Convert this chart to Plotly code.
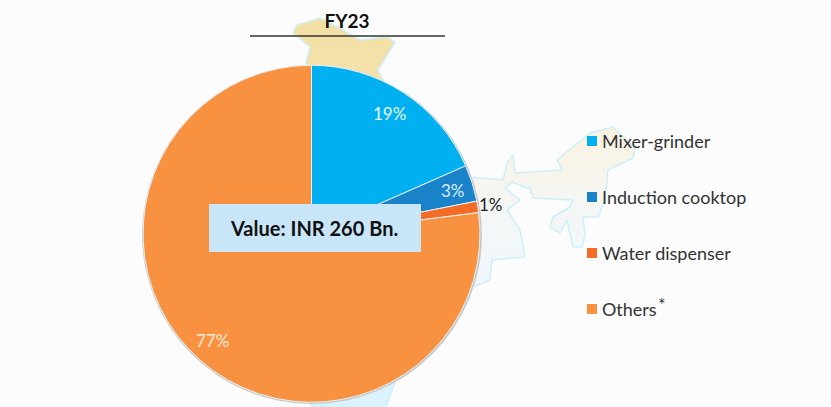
import base64
import plotly.graph_objects as go

W, H = 831, 407

categories = ["Mixer-grinder", "Induction cooktop", "Water dispenser", "Others"]
legend_labels = ["Mixer-grinder", "Induction cooktop", "Water dispenser", "Others"]
drawn_shares = [18.4, 3.5, 1.1, 77.0]
share_labels = ["19%", "3%", "1%", "77%"]
colors = ["#00B0F0", "#1A82C8", "#F46B23", "#F99240"]
label_colors = ["#EAF8FE", "#DCEEFA", "#222222", "#FDEBDC"]
label_pos = [(389, 113), (453, 190), (491, 204), (213, 340)]
title_text = "FY23"
box_text = "Value: INR 260 Bn."

# Decorative map silhouette behind the pie (pixel outline)
map_outline = [
    (293, 33), (297, 25), (320, 18), (343, 30), (360, 40), (387, 37), (395, 42), (378, 70), (383, 80),
    (470, 177), (503, 180), (507, 163), (513, 155), (515, 173), (562, 170), (557, 160), (590, 133),
    (613, 127), (635, 148), (633, 158), (608, 170), (605, 200), (598, 217), (583, 217), (585, 235),
    (582, 247), (573, 247), (567, 220), (560, 233), (550, 227), (553, 217), (570, 207), (573, 200),
    (533, 198), (530, 187), (527, 188), (512, 182), (505, 188), (520, 200), (507, 210), (520, 230),
    (525, 257), (492, 260), (490, 280), (470, 288), (400, 370), (392, 390), (386, 407), (312, 407),
    (250, 300), (250, 150), (310, 75), (306, 63), (310, 47),
]
pts = " ".join(f"{x},{y}" for x, y in map_outline)
svg = f'''<svg xmlns="http://www.w3.org/2000/svg" width="{W}" height="{H}" viewBox="0 0 {W} {H}">
<defs><linearGradient id="g" gradientUnits="userSpaceOnUse" x1="0" y1="20" x2="0" y2="407">
<stop offset="0" stop-color="#F3DFA2"/><stop offset="0.17" stop-color="#F4E2AE"/>
<stop offset="0.3" stop-color="#FAF3E3"/><stop offset="0.5" stop-color="#F4F7F6"/>
<stop offset="0.7" stop-color="#EFF7FC"/><stop offset="1" stop-color="#D8F2FC"/></linearGradient></defs>
<polygon points="{pts}" fill="url(#g)" stroke="#CDEFFA" stroke-width="1.5" stroke-linejoin="round"/></svg>'''
map_uri = "data:image/svg+xml;base64," + base64.b64encode(svg.encode()).decode()

FONT = "Lato, Carlito, sans-serif"
def px(x): return x / W
def py(y): return 1 - y / H

fig = go.Figure(go.Pie(
    labels=categories, values=drawn_shares, sort=False, direction="clockwise", rotation=0,
    marker=dict(colors=colors, line=dict(color="#E6F2F8", width=1)),
    textinfo="none", hoverinfo="label+percent", showlegend=False,
    domain=dict(x=[px(143), px(480)], y=[py(402.5), py(65)]),
))

shapes = [
    dict(type="circle", xref="paper", yref="paper", layer="below",
         x0=px(142), x1=px(482), y0=py(404), y1=py(65),
         fillcolor="#C8C8C8", line=dict(width=0)),
    dict(type="rect", xref="paper", yref="paper", layer="above",
         x0=px(209), x1=px(421), y0=py(252), y1=py(204),
         fillcolor="#C9E5F8", line=dict(width=0)),
    dict(type="line", xref="paper", yref="paper", layer="above",
         x0=px(250), x1=px(445), y0=py(36), y1=py(36),
         line=dict(color="#333333", width=1.5)),
]
annotations = [
    dict(x=px(314), y=py(228), xref="paper", yref="paper", text=f"<b>{box_text}</b>", showarrow=False,
         xanchor="center", yanchor="middle", font=dict(family=FONT, size=20, color="#111111")),
    dict(x=px(662), y=py(304), xref="paper", yref="paper", text="*", showarrow=False,
         xanchor="center", yanchor="middle", borderpad=0, font=dict(family=FONT, size=18, color="#333333")),
]
for txt, col, (lx, ly) in zip(share_labels, label_colors, label_pos):
    annotations.append(dict(x=px(lx), y=py(ly), xref="paper", yref="paper", text=txt, showarrow=False,
                            xanchor="center", yanchor="middle", font=dict(family=FONT, size=17, color=col)))
for i, (txt, col) in enumerate(zip(legend_labels, colors)):
    cy = 141 + i * 56
    shapes.append(dict(type="rect", xref="paper", yref="paper", layer="above",
                       x0=px(587), x1=px(597), y0=py(cy + 5), y1=py(cy - 5),
                       fillcolor=col, line=dict(width=0)))
    annotations.append(dict(x=px(600), y=py(cy), xref="paper", yref="paper", text=txt, showarrow=False,
                            xanchor="left", yanchor="middle", font=dict(family=FONT, size=18, color="#333333")))

fig.update_layout(
    width=W, height=H, margin=dict(l=0, r=0, t=0, b=0),
    paper_bgcolor="#FCFCFC", plot_bgcolor="#FCFCFC",
    title=dict(text=f"<b>{title_text}</b>", x=px(347), y=py(21), xref="paper", yref="paper",
               xanchor="center", yanchor="middle", font=dict(family=FONT, size=19, color="#111111")),
    images=[dict(source=map_uri, xref="paper", yref="paper", x=0, y=1, sizex=1, sizey=1,
                 sizing="stretch", xanchor="left", yanchor="top", layer="below")],
    shapes=shapes, annotations=annotations,
)
fig.write_html("out.html", config={"displayModeBar": False},
               post_script="document.body.style.margin='0';document.body.style.background='#FCFCFC';document.documentElement.style.overflow='hidden';")
